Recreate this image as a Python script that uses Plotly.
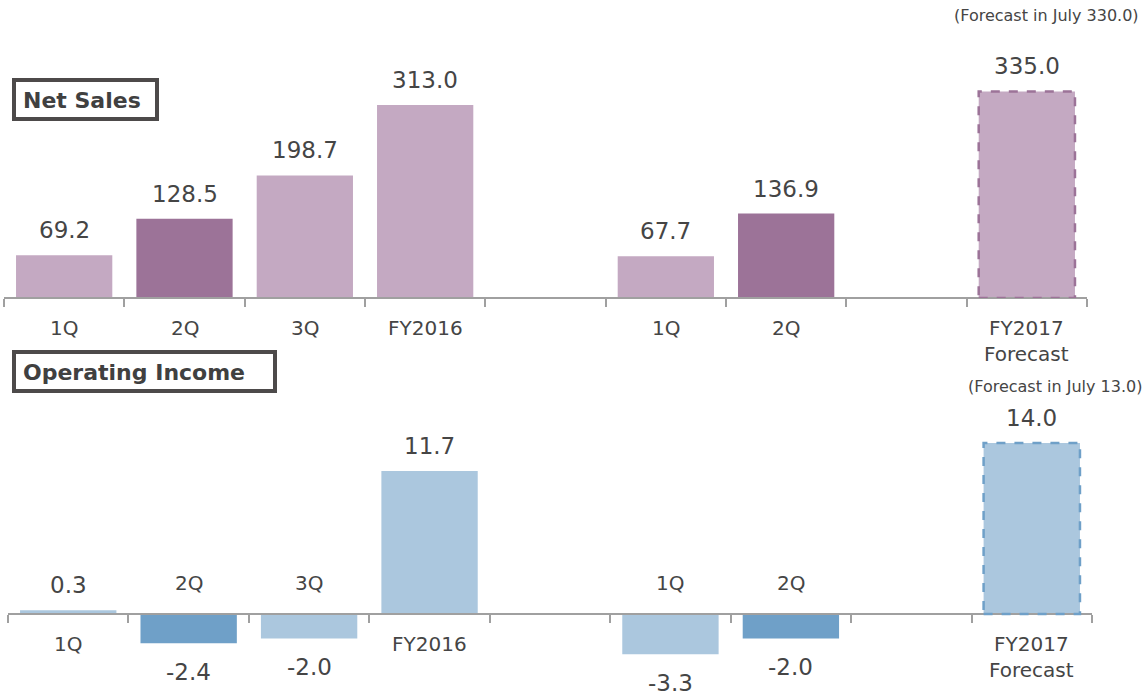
import plotly.graph_objects as go

# ---- data ----
slots = ["1Q_16", "2Q_16", "3Q_16", "FY2016", "gap1", "1Q_17", "2Q_17", "gap2", "FY2017F"]
bar_slots = ["1Q_16", "2Q_16", "3Q_16", "FY2016", "1Q_17", "2Q_17", "FY2017F"]
bar_labels = ["1Q", "2Q", "3Q", "FY2016", "1Q", "2Q", "FY2017<br>Forecast"]
net_sales = [69.2, 128.5, 198.7, 313.0, 67.7, 136.9, 335.0]
op_income = [0.3, -2.4, -2.0, 11.7, -3.3, -2.0, 14.0]
highlight = [False, True, False, False, False, True, False]
forecast = [False, False, False, False, False, False, True]
panel_titles = ["Net Sales", "Operating Income"]
forecast_notes = ["(Forecast in July 330.0)", "(Forecast in July 13.0)"]

# ---- style ----
W, H = 1147, 695
FONT = "DejaVu Sans"
TXT = "#454545"
AXIS = "#a0a0a0"
purple_light, purple_dark = "#c4a9c2", "#9c7398"
blue_light, blue_dark = "#abc7de", "#6fa0c8"

def py(p):  # pixel row -> paper y
    return 1 - p / H

def px(p):
    return p / W

fig = go.Figure()

panels = [
    dict(vals=net_sales, light=purple_light, dark=purple_dark, xa="x", ya="y",
         xdom=[px(4), px(1087)], base=298, top=40, bottom=298, scale=193 / 313.0),
    dict(vals=op_income, light=blue_light, dark=blue_dark, xa="x2", ya="y2",
         xdom=[px(8), px(1092)], base=614, top=420, bottom=690, scale=143 / 11.7),
]

annotations = []
shapes = []
for i, p in enumerate(panels):
    colors = [p["dark"] if h else p["light"] for h in highlight]
    fig.add_trace(go.Bar(x=bar_slots, y=p["vals"], marker=dict(color=colors, line=dict(width=0)),
                         xaxis=p["xa"], yaxis=p["ya"], showlegend=False, hoverinfo="x+y"))
    ymin = -(p["bottom"] - p["base"]) / p["scale"]
    ymax = (p["base"] - p["top"]) / p["scale"]
    suffix = "" if i == 0 else "2"
    fig.layout["xaxis" + suffix] = dict(
        domain=p["xdom"], type="category", categoryorder="array", categoryarray=slots,
        anchor="free", position=py(p["base"]), showline=True, linecolor=AXIS, linewidth=2,
        ticks="outside", tickson="boundaries", ticklen=8, tickwidth=1.5, tickcolor=AXIS,
        showticklabels=False, showgrid=False, zeroline=False, fixedrange=True,
        range=[-0.5, len(slots) - 0.5])
    fig.layout["yaxis" + suffix] = dict(
        domain=[py(p["bottom"]), py(p["top"])], range=[ymin, ymax], visible=False,
        showgrid=False, zeroline=False, fixedrange=True)

    for s, v, lab, f in zip(bar_slots, p["vals"], bar_labels, forecast):
        # value labels
        annotations.append(dict(x=s, y=v, xref=p["xa"], yref=p["ya"], text=f"{v:.1f}",
                                showarrow=False, yanchor="middle",
                                yshift=25 if v >= 0 else -29,
                                font=dict(family=FONT, size=23, color=TXT)))
        # category labels (opposite side of bar)
        if i == 1 and v < 0:
            annotations.append(dict(x=s, y=0, xref=p["xa"], yref=p["ya"], text=lab,
                                    showarrow=False, yanchor="middle", yshift=31,
                                    font=dict(family=FONT, size=20, color=TXT)))
        else:
            annotations.append(dict(x=s, y=0, xref=p["xa"], yref=p["ya"], text=lab,
                                    showarrow=False, yanchor="top", yshift=-16,
                                    font=dict(family=FONT, size=20, color=TXT)))
        if f:
            idx = slots.index(s)
            shapes.append(dict(type="rect", xref=p["xa"], yref=p["ya"],
                               x0=idx - 0.4, x1=idx + 0.4, y0=0, y1=v,
                               line=dict(color=p["dark"], width=2.5, dash="dash"),
                               fillcolor="rgba(0,0,0,0)"))

# panel title boxes
title_pos = [(12, 78), (12, 350)]
title_w = [147, 265]
for t, (x0, y0), w in zip(panel_titles, title_pos, title_w):
    shapes.append(dict(type="rect", xref="paper", yref="paper",
                       x0=px(x0 + 2), x1=px(x0 + w - 2), y0=py(y0 + 2), y1=py(y0 + 41),
                       line=dict(color="#4d4a4a", width=4), fillcolor="white"))
    annotations.append(dict(x=px(x0 + 9), y=py(y0 + 22), xref="paper", yref="paper",
                            text=f"<b>{t}</b>", showarrow=False, xanchor="left", yanchor="middle",
                            font=dict(family=FONT, size=22, color="#404040")))

# forecast notes
for note, yy, xx in zip(forecast_notes, [16, 386], [1141, 1144]):
    annotations.append(dict(x=px(xx), y=py(yy), xref="paper", yref="paper", text=note,
                            showarrow=False, xanchor="right", yanchor="middle",
                            font=dict(family=FONT, size=16, color=TXT)))

fig.update_layout(width=W, height=H, margin=dict(l=0, r=0, t=0, b=0),
                  paper_bgcolor="white", plot_bgcolor="white", bargap=0.2,
                  annotations=annotations, shapes=shapes,
                  font=dict(family=FONT, color=TXT))

fig.write_html("out.html", config={"displayModeBar": False},
               post_script="document.body.style.margin='0';")
